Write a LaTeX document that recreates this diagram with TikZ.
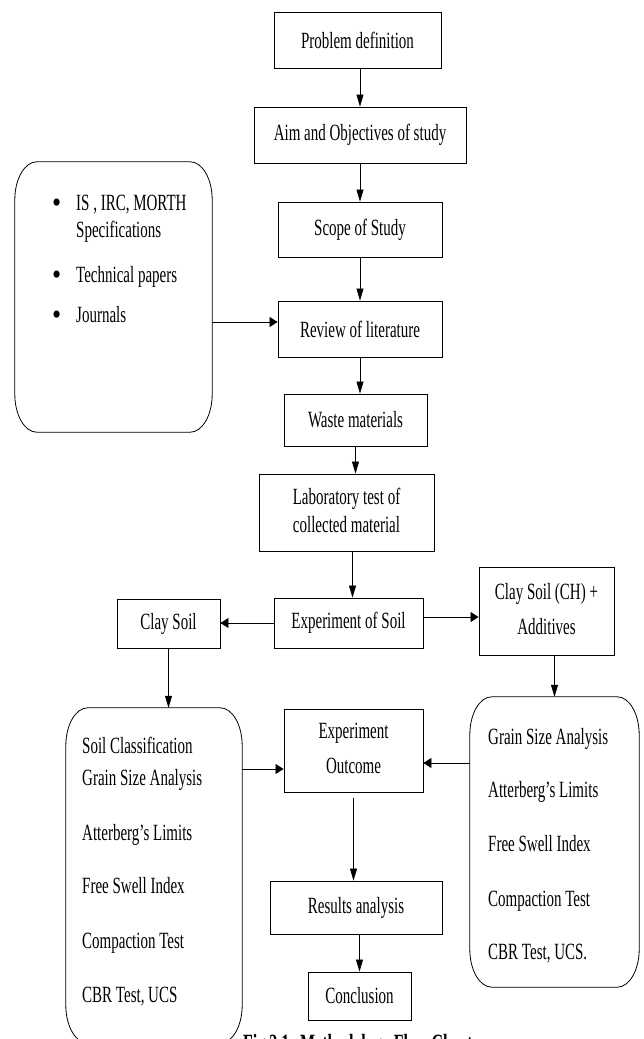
\documentclass[tikz,border=0pt]{standalone}
\usepackage{fontspec}
\setmainfont{Liberation Serif}
\usepackage{graphicx}
\usetikzlibrary{arrows.meta, calc}

% text of the scan is stretched upright
\newcommand{\tall}[1]{\scalebox{1}[1.55]{#1}}
% rounded frame with oval corners round a named node
\newcommand{\ovalframe}[1]{%
  \draw[line width=0.8pt] ($(#1.north west)+(22,0)$) -- ($(#1.north east)+(-22,0)$)
    arc[start angle=90, end angle=0, x radius=22pt, y radius=38pt]
    -- ($(#1.south east)+(0,-38)$)
    arc[start angle=0, end angle=-90, x radius=22pt, y radius=38pt]
    -- ($(#1.south west)+(22,0)$)
    arc[start angle=270, end angle=180, x radius=22pt, y radius=38pt]
    -- ($(#1.north west)+(0,38)$)
    arc[start angle=180, end angle=90, x radius=22pt, y radius=38pt] -- cycle;}

\begin{document}
\begin{tikzpicture}[x=1pt, y=-1pt,
    every node/.style={font=\fontsize{15}{18}\selectfont, inner sep=0pt},
    box/.style={draw, line width=0.9pt, align=center},
    oval/.style={inner sep=0pt},
    item/.style={anchor=base west},
    dot/.style={anchor=base west, font=\fontsize{26}{26}\selectfont},
    varrow/.style={line width=0.7pt, -{Triangle[length=12pt, width=7pt]}},
    harrow/.style={line width=0.7pt, -{Triangle[length=8pt, width=10pt]}}]
  \useasboundingbox (0,0) rectangle (643,1039);
  \clip (0,0) rectangle (643,1039);

  % --- main column ---
  \node[box, minimum width=167pt, minimum height=56pt] (prob) at (357.5,40) {\tall{Problem definition}};
  \node[box, minimum width=212pt, minimum height=56pt] (aim) at (360,135) {\tall{Aim and Objectives of study}};
  \node[box, minimum width=164pt, minimum height=55pt] (scope) at (360,229.5) {\tall{Scope of Study}};
  \node[box, minimum width=164pt, minimum height=56pt] (review) at (360,329) {\tall{Review of literature}};
  \node[box, minimum width=143pt, minimum height=52pt] (waste) at (355.5,420) {\tall{Waste materials}};
  \node[box, minimum width=175pt, minimum height=77pt] (lab) at (346.5,512.5)
    {\tall{\begin{tabular}{@{}c@{}}Laboratory test of\\ collected material\end{tabular}}};
  \node[box, minimum width=149pt, minimum height=50pt] (exp) at (348.5,623) {\tall{Experiment of Soil}};

  % --- side branches ---
  \node[box, minimum width=103pt, minimum height=49pt] (clay) at (168.5,623.5) {\tall{Clay Soil}};
  \node[box, minimum width=135pt, minimum height=88pt] (claych) at (546.5,611)
    {\tall{\begin{tabular}{@{}c@{}}Clay Soil (CH) +\\[4.5pt] Additives\end{tabular}}};

  % --- bottom part ---
  \node[box, minimum width=139pt, minimum height=83pt] (outcome) at (353.5,750.5)
    {\tall{\begin{tabular}{@{}c@{}}Experiment\\[5pt] Outcome\end{tabular}}};
  \node[box, minimum width=172pt, minimum height=53pt] (results) at (356,907.5) {\tall{Results analysis}};
  \node[box, minimum width=103pt, minimum height=48pt] (concl) at (359.5,996) {\tall{Conclusion}};

  % --- rounded frames ---
  \node[oval, minimum width=197pt, minimum height=270pt] (lit) at (113.5,297) {};
  \ovalframe{lit}
  \node[dot] (litb1) at (52,212) {\scalebox{1}[1.15]{•}};
  \node[item] (lit1) at (76,210) {\tall{IS , IRC, MORTH}};
  \node[item] (lit2) at (76,237) {\tall{Specifications}};
  \node[dot] (litb2) at (52,284) {\scalebox{1}[1.15]{•}};
  \node[item] (lit3) at (76,282) {\tall{Technical papers}};
  \node[dot] (litb3) at (52,324) {\scalebox{1}[1.15]{•}};
  \node[item] (lit4) at (76,322) {\tall{Journals}};

  \node[oval, minimum width=176pt, minimum height=335pt] (soiltests) at (154,875.5) {};
  \ovalframe{soiltests}
  \node[item] (st1) at (82,753.5) {\tall{Soil Classification}};
  \node[item] (st2) at (82,785.5) {\tall{Grain Size Analysis}};
  \node[item] (st3) at (82,840.5) {\tall{Atterberg’s Limits}};
  \node[item] (st4) at (82,893.5) {\tall{Free Swell Index}};
  \node[item] (st5) at (82,948.5) {\tall{Compaction Test}};
  \node[item] (st6) at (82,1002.5) {\tall{CBR Test, UCS}};

  \node[oval, minimum width=169pt, minimum height=290pt] (addtests) at (554.5,842) {};
  \ovalframe{addtests}
  \node[item] (at1) at (488,744.5) {\tall{Grain Size Analysis}};
  \node[item] (at2) at (488,797.5) {\tall{Atterberg’s Limits}};
  \node[item] (at3) at (488,851.5) {\tall{Free Swell Index}};
  \node[item] (at4) at (488,906.5) {\tall{Compaction Test}};
  \node[item] (at5) at (488,959.5) {\tall{CBR Test, UCS.}};

  % --- caption, cut by the lower edge ---
  \node[anchor=base west, font=\fontsize{16}{16}\selectfont\bfseries] (cap) at (243,1051)
    {\tall{Fig 3.1: Methodology Flow Chart}};

  % --- connectors ---
  \draw[varrow] (prob.south -| aim.north) -- (aim.north);
  \draw[varrow] (aim.south) -- (scope.north);
  \draw[varrow] (scope.south) -- (review.north);
  \draw[varrow] (review.south) -- (review.south |- waste.north);
  \draw[varrow] (waste.south) -- (waste.south |- lab.north);
  \coordinate (expin) at ([xshift=4pt]exp.north);
  \draw[varrow] (expin |- lab.south) -- (expin);

  \coordinate (litin) at ([yshift=7pt]review.west);
  \draw[harrow] (lit.east |- litin) -- (litin);

  \draw[harrow] (exp.west) -- (exp.west -| clay.east);
  \coordinate (expout) at ([yshift=6pt]exp.east);
  \draw[harrow] (expout) -- (expout -| claych.west);
  \draw[varrow] (clay.south) -- (clay.south |- soiltests.north);
  \coordinate (addin) at ([xshift=8pt]claych.south);
  \draw[varrow] (addin) -- (addin |- addtests.north);

  \coordinate (outin1) at ([yshift=-18.5pt]outcome.west);
  \draw[harrow] (outin1 -| soiltests.east) -- (outin1);
  \coordinate (outin2) at ([yshift=-12.5pt]outcome.east);
  \draw[harrow] (outin2 -| addtests.west) -- (outin2);
  \draw[varrow] ([yshift=-6pt]outcome.south) -- (outcome.south |- results.north);
  \draw[varrow] (results.south -| concl.north) -- (concl.north);
\end{tikzpicture}
\end{document}
